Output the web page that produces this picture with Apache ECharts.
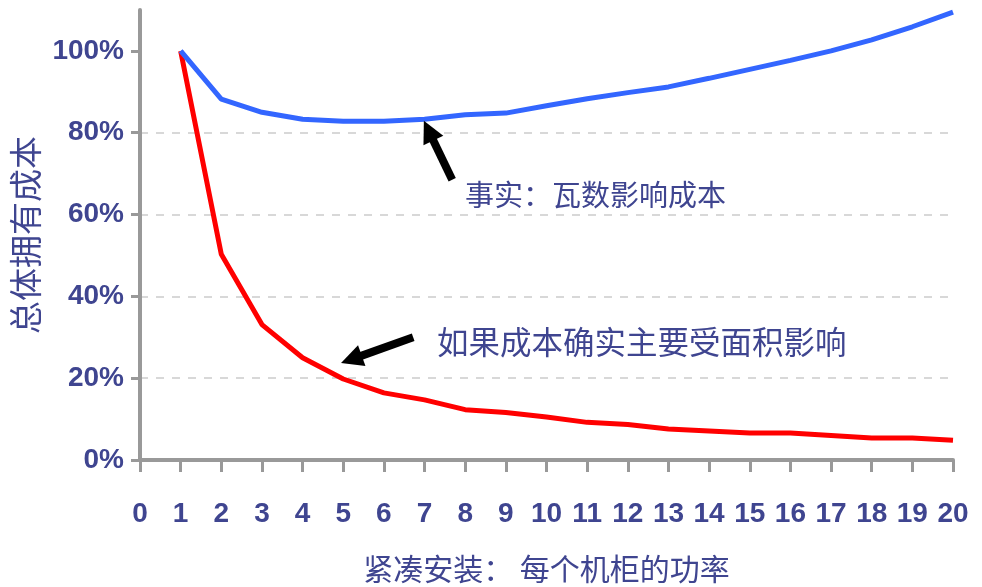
<!DOCTYPE html>
<html>
<head>
<meta charset="utf-8">
<script src="https://cdn.jsdelivr.net/npm/echarts@6/dist/echarts.min.js"></script>
<style>
  html, body { margin: 0; padding: 0; background: #ffffff; }
  #chart { width: 982px; height: 587px; }
</style>
</head>
<body>
<div id="chart"></div>
<script>
// Power per rack (kW) on the x axis
const xTicks = [0, 1, 2, 3, 4, 5, 6, 7, 8, 9, 10, 11, 12, 13, 14, 15, 16, 17, 18, 19, 20];
const powerPerRack = [1, 2, 3, 4, 5, 6, 7, 8, 9, 10, 11, 12, 13, 14, 15, 16, 17, 18, 19, 20];
// Relative total cost of ownership, percent
const costByWatts = [100, 88.2, 85, 83.3, 82.8, 82.8, 83.3, 84.4, 84.8, 86.6, 88.3, 89.8, 91.2, 93.3, 95.5, 97.7, 100, 102.7, 105.9, 109.5];
const costByArea = [100, 50.3, 33.1, 25, 19.8, 16.4, 14.7, 12.3, 11.6, 10.5, 9.2, 8.7, 7.6, 7.1, 6.6, 6.6, 6.0, 5.4, 5.4, 4.8];
const yTicks = [0, 20, 40, 60, 80, 100];

// Annotation arrows, [x, y] in data units: tail -> head
const arrowWatts = [[7.68, 68.5], [7.1, 80.5]];
const arrowArea = [[6.72, 30.0], [5.2, 24.6]];

const textColor = '#3f4590';
const axisGrey = '#999999';

const chart = echarts.init(document.getElementById('chart'), null, { renderer: 'canvas' });

function arrowLine(seg) {
  return {
    silent: true,
    symbol: ['none', 'triangle'],
    symbolSize: 22,
    label: { show: false },
    lineStyle: { color: '#000000', width: 8, type: 'solid', opacity: 1 },
    itemStyle: { color: '#000000' },
    emphasis: { disabled: true },
    data: [[{ coord: seg[0] }, { coord: seg[1] }]]
  };
}

chart.setOption({
  animation: false,
  grid: { left: 140, right: 29, top: 10, bottom: 127, containLabel: false, outerBoundsMode: 'none' },
  xAxis: {
    type: 'value',
    min: 0,
    max: 20,
    interval: 1,
    name: '紧凑安装： 每个机柜的功率',
    nameLocation: 'middle',
    nameGap: 94,
    nameTextStyle: { color: textColor, fontSize: 30, fontFamily: 'Noto Sans CJK SC' },
    axisLine: { show: true, lineStyle: { color: axisGrey, width: 4 } },
    axisTick: { show: true, length: 12, lineStyle: { color: axisGrey, width: 3 }, customValues: xTicks },
    axisLabel: {
      color: textColor, fontSize: 28, fontWeight: 'bold', fontFamily: 'Liberation Sans',
      margin: 40, customValues: xTicks
    },
    splitLine: { show: false }
  },
  yAxis: {
    type: 'value',
    min: 0,
    max: 110,
    name: '总体拥有成本',
    nameLocation: 'middle',
    nameGap: 96,
    nameRotate: 90,
    nameTextStyle: { color: textColor, fontSize: 33, fontFamily: 'Noto Sans CJK SC' },
    axisLine: { show: true, lineStyle: { color: axisGrey, width: 4 } },
    axisTick: { show: true, length: 9, lineStyle: { color: axisGrey, width: 3 }, customValues: yTicks },
    axisLabel: {
      color: textColor, fontSize: 28, fontWeight: 'bold', fontFamily: 'Liberation Sans',
      margin: 16, customValues: yTicks, formatter: v => v + '%'
    },
    splitLine: {
      show: true, showMinLine: false, showMaxLine: false,
      lineStyle: { color: '#cccccc', width: 1.5, type: [8, 8] }
    }
  },
  series: [
    {
      name: '瓦数影响成本',
      type: 'line',
      data: powerPerRack.map((x, i) => [x, costByWatts[i]]),
      showSymbol: false,
      symbol: 'none',
      lineStyle: { color: '#3366ff', width: 5 },
      z: 3,
      markLine: arrowLine(arrowWatts)
    },
    {
      name: '面积影响成本',
      type: 'line',
      data: powerPerRack.map((x, i) => [x, costByArea[i]]),
      showSymbol: false,
      symbol: 'none',
      lineStyle: { color: '#ff0000', width: 5 },
      z: 2,
      markLine: arrowLine(arrowArea)
    }
  ],
  graphic: [
    {
      type: 'text', left: 465, top: 180,
      style: { text: '事实：瓦数影响成本', fill: textColor, fontSize: 29, fontFamily: 'Noto Sans CJK SC' }
    },
    {
      type: 'text', left: 437, top: 326,
      style: { text: '如果成本确实主要受面积影响', fill: textColor, fontSize: 31.5, fontFamily: 'Noto Sans CJK SC' }
    }
  ]
});
</script>
</body>
</html>
